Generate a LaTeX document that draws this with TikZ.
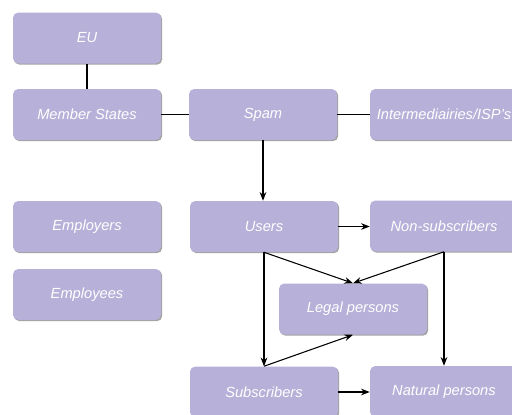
\documentclass[tikz,border=0pt]{standalone}
\usepackage{fontspec}
\setmainfont{Liberation Sans}
\usetikzlibrary{shadows,arrows.meta}
\definecolor{boxfill}{HTML}{B7B0D8}
\begin{document}
\begin{tikzpicture}[x=0.75pt,y=-0.75pt,
  box/.style={rectangle, rounded corners=4pt, fill=boxfill, minimum width=111pt, minimum height=38.25pt,
    inner sep=0pt, text=white, font=\fontsize{11}{13}\selectfont\itshape,
    drop shadow={shadow xshift=0.9pt, shadow yshift=-0.9pt, fill=black!45, opacity=0.8}},
  conn/.style={line width=0.8pt, black},
  arr/.style={conn, -{Stealth[length=6.5pt,width=5pt]}}]
\useasboundingbox[fill=white] (0,0) rectangle (512,415);
\node[box] (eu) at (87,38) {EU};
\node[box] (ms) at (87,114.5) {Member States};
\node[box] (spam) at (263,114.5) {Spam};
\node[box] (isp) at (444,114.5) {Intermediairies/ISP's};
\node[box] (employers) at (87,226.5) {Employers};
\node[box] (employees) at (87,294.5) {Employees};
\node[box] (users) at (264,226.5) {Users};
\node[box] (nonsub) at (444,226) {Non-subscribers};
\node[box] (legal) at (353,309) {Legal persons};
\node[box] (subs) at (264,392) {Subscribers};
\node[box] (natural) at (444,391.5) {Natural persons};
\draw[conn] (eu.south) -- (ms.north);
\draw[conn] (ms.east) -- (spam.west);
\draw[conn] (spam.east) -- (isp.west);
\draw[arr] (spam.south) -- (spam.south |- users.north);
\draw[arr] (users.east) -- (nonsub.west |- users.east);
\draw[arr] (users.south) -- (legal.north);
\draw[arr] (users.south) -- (subs.north);
\draw[arr] (nonsub.south) -- (legal.north);
\draw[arr] (nonsub.south) -- (natural.north);
\draw[arr] (subs.north) -- (legal.south);
\draw[arr] (subs.east) -- (natural.west |- subs.east);
\end{tikzpicture}
\end{document}
